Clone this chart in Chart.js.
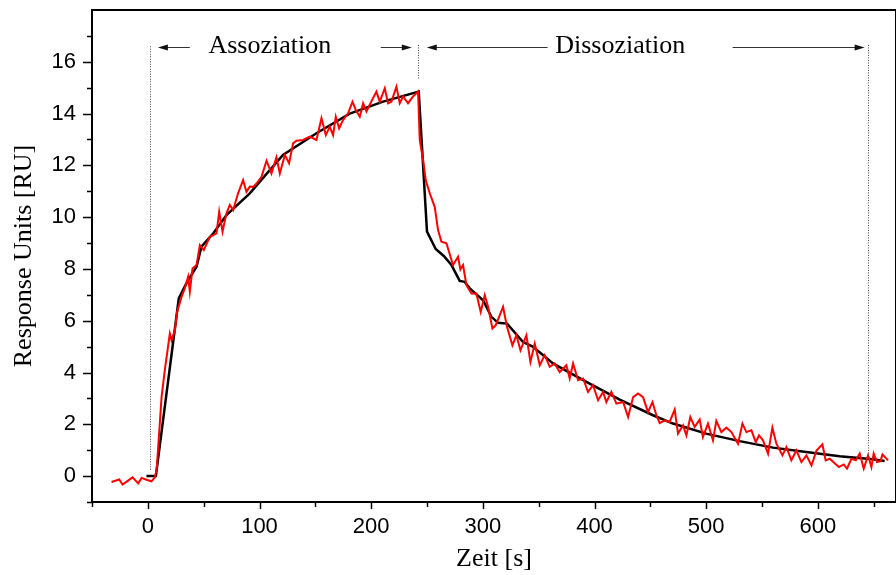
<!DOCTYPE html>
<html>
<head>
<meta charset="utf-8">
<script src="https://cdn.jsdelivr.net/npm/chart.js@4"></script>
<style>
  body { margin: 0; background: #fff; }
  #wrap { width: 896px; height: 575px; position: relative; }
</style>
</head>
<body>
<div id="wrap"><canvas id="spr-chart"></canvas></div>
<script>
// measured signal (red)
const redTime = [-32.5, -25.6, -22.6, -13.7, -8.6, -5.6, -0.6, 3.3, 6.3, 8.0, 12.3, 15.2, 19.7, 21.2, 24.2, 26.2,
  30.2, 33.1, 36.1, 37.6, 40, 43.6, 46.6, 50.1, 55.5, 61.5, 63.9, 66.9, 70.4, 73.4, 76.4, 80.8, 85.3, 88.3,
  91.3, 94.3, 97.3, 101.8, 106.3, 110.7, 115.2, 118.2, 122.7, 126.5, 130.1, 133.1, 139, 145, 151, 155.5,
  159.4, 162.9, 165.9, 168.3, 171.3, 174.8, 179.3, 183.3, 186.2, 189.8, 192.8, 195.8, 199.4, 204.7, 207.7,
  212.2, 215.1, 218.2, 222.6, 225.6, 228.6, 233, 237.5, 242, 243.5, 246.5, 249, 252.5, 256.9, 259.9, 262.9,
  267.4, 273.3, 277.8, 279.9, 282.3, 285.3, 289.8, 294.2, 298.1, 301.7, 304.7, 308.6, 311.6, 315.1, 318.1,
  321.7, 326.5, 330.1, 333.7, 339, 342.6, 346.5, 351, 355.4, 359.9, 364.4, 368.8, 374.8, 377.8, 380.8,
  385.3, 389.8, 394.2, 398.7, 403.2, 407.7, 410.6, 415.1, 419.6, 425.6, 430.1, 434.6, 439, 443.5, 447.9,
  451.9, 455.4, 458.4, 462.9, 467.3, 471.8, 474.8, 479.3, 482.3, 485.8, 489.7, 494.2, 497.1, 501.6, 506.1,
  509.1, 513.6, 518.1, 522.6, 528.5, 532.5, 536, 540.5, 544.4, 547.3, 550.9, 555.4, 559.3, 562.9, 568.3,
  571.9, 576.3, 580.8, 585.3, 589.8, 594.3, 598.8, 604.1, 607, 610.6, 615.1, 618.9, 623.2, 626.1, 630.1,
  634, 637.5, 641.1, 645, 648, 650, 653, 656.1, 657.9, 662.9];
const redResponse = [-0.23, -0.13, -0.33, -0.05, -0.28, -0.07, -0.15, -0.2, -0.05, 0.3, 3.05, 4.09, 5.5, 5.25, 5.63, 6.34,
  6.92, 7.25, 7.7, 7.12, 8.02, 8.15, 8.92, 8.73, 9.24, 9.37, 10.21, 9.44, 10.15, 10.47, 10.27, 10.92, 11.43, 10.98,
  11.18, 11.17, 11.3, 11.56, 12.18, 11.69, 12.31, 11.69, 12.4, 12.08, 12.85, 12.95, 12.98, 13.11, 12.98, 13.82,
  13.17, 13.5, 13.17, 13.88, 13.43, 13.75, 14.01, 14.46, 14.14, 13.88, 14.4, 14.08, 14.4, 14.85, 14.46,
  14.98, 14.4, 14.46, 15.04, 14.4, 14.66, 14.4, 14.66, 14.85, 12.98, 12.2, 11.4, 10.92, 10.4, 9.5, 9.05,
  8.99, 8.15, 8.47, 7.98, 8.15, 7.37, 7.05, 7.05, 6.34, 6.99, 6.54, 5.7, 5.83, 6.21, 6.54,
  5.76, 5.05, 5.44, 4.86, 5.44, 4.41, 5.12, 4.28, 4.67, 4.22, 4.35, 4.02, 4.28, 3.77, 4.35,
  3.7, 3.77, 3.25, 3.51, 2.93, 3.25, 2.86, 3.25, 2.8, 2.86, 2.28, 3.05, 3.19, 3.05, 2.47,
  2.86, 2.35, 2.05, 2.15, 2.09, 2.57, 1.64, 1.96, 1.57, 2.28, 1.9, 2.18, 1.51, 2.03, 1.38,
  2.13, 1.7, 1.87, 1.7, 1.25, 2.03, 1.7, 1.77, 1.31, 1.57, 1.38, 0.87, 1.87, 1.25, 0.8,
  1.12, 0.61, 0.99, 0.54, 0.8, 0.41, 0.99, 1.23, 0.61, 0.67, 0.5, 0.35, 0.45, 0.29, 0.67,
  0.61, 0.87, 0.29, 0.8, 0.35, 0.87, 0.54, 0.58, 0.84, 0.61];

// fitted curve (black)
const fitTime = [-1.2, 7.2, 27.7, 35.2, 43.6, 48, 58.5, 70.4, 91.3, 100.3, 121, 151, 180.8, 210.7, 242.6,
  250, 257.8, 265, 271.9, 279.3, 283.8, 288.3, 300.2, 307.7, 313.6, 321.7, 336, 345, 362.8, 392.7,
  422.6, 452.4, 470.3, 500, 530, 559.8, 589.6, 619.5, 649.3, 659.8];
const fitResponse = [0, 0, 6.86, 7.5, 8.08, 8.86, 9.37, 10.08, 10.92, 11.37, 12.4, 13.24, 14.0, 14.46, 14.85,
  9.44, 8.77, 8.5, 8.15, 7.54, 7.5, 7.25, 6.79, 6.15, 5.92, 5.89, 5.18, 4.99, 4.35, 3.64,
  2.95, 2.35, 2.03, 1.64, 1.35, 1.10, 0.93, 0.77, 0.65, 0.58];

// phase markers (data units)
const markerTime = [1.8, 241.5, 645.2];
const markerTop = [16.6, 16.65, 16.65];
const markerBottom = [0.2, 15.3, 0.7];
const arrowTail = [37.6, 208.6, 358, 523.7];
const arrowTip = [9, 236.4, 249.8, 641.9];
const arrowLevel = 16.59;
const phaseNames = ['Assoziation', 'Dissoziation'];
const phaseCenter = [109.2, 423];
const phaseBaseline = 16.33;

Chart.defaults.font.family = '"Liberation Sans", Arial, sans-serif';
Chart.defaults.color = '#000';

const toPoints = (xs, ys) => xs.map((x, i) => ({ x: x, y: ys[i] }));

const annotations = {
    id: 'annotations',
    afterDraw(chart) {
        const ctx = chart.ctx;
        const xs = chart.scales.x, ys = chart.scales.y;
        const area = chart.chartArea;
        ctx.save();

        // frame top / right
        ctx.strokeStyle = '#000';
        ctx.lineWidth = 2;
        ctx.beginPath();
        ctx.moveTo(area.left, area.top);
        ctx.lineTo(area.right, area.top);
        ctx.lineTo(area.right, area.bottom);
        ctx.stroke();

        // tick marks, major / minor
        ctx.lineWidth = 1.5;
        xs.ticks.forEach(t => {
            const px = Math.round(xs.getPixelForValue(t.value)) + 0.5;
            const len = t.value % 100 === 0 ? 7 : 5;
            ctx.beginPath();
            ctx.moveTo(px, area.bottom);
            ctx.lineTo(px, area.bottom + len);
            ctx.stroke();
        });
        ys.ticks.forEach(t => {
            if (t.value > 17) return;
            const py = Math.round(ys.getPixelForValue(t.value)) + 0.5;
            const len = t.value % 2 === 0 ? 9 : 5;
            ctx.beginPath();
            ctx.moveTo(area.left, py);
            ctx.lineTo(area.left - len, py);
            ctx.stroke();
        });

        // dotted phase markers
        ctx.strokeStyle = '#444';
        ctx.lineWidth = 1;
        ctx.setLineDash([1, 1.5]);
        markerTime.forEach((t, i) => {
            const px = Math.round(xs.getPixelForValue(t)) + 0.5;
            ctx.beginPath();
            ctx.moveTo(px, ys.getPixelForValue(markerTop[i]));
            ctx.lineTo(px, ys.getPixelForValue(markerBottom[i]));
            ctx.stroke();
        });
        ctx.setLineDash([]);

        // arrows
        const ay = Math.round(ys.getPixelForValue(arrowLevel)) + 0.5;
        ctx.fillStyle = '#111';
        arrowTail.forEach((t, i) => {
            const x0 = xs.getPixelForValue(t);
            const x1 = xs.getPixelForValue(arrowTip[i]);
            const dir = x1 > x0 ? 1 : -1;
            ctx.strokeStyle = '#333';
            ctx.beginPath();
            ctx.moveTo(x0, ay);
            ctx.lineTo(x1 - dir * 8, ay);
            ctx.stroke();
            ctx.beginPath();
            ctx.moveTo(x1, ay);
            ctx.lineTo(x1 - dir * 10, ay - 3);
            ctx.lineTo(x1 - dir * 10, ay + 3);
            ctx.closePath();
            ctx.fill();
        });

        // phase labels
        ctx.font = '26px "Liberation Serif", "Times New Roman", serif';
        ctx.fillStyle = '#000';
        ctx.textAlign = 'center';
        ctx.textBaseline = 'alphabetic';
        phaseNames.forEach((name, i) => {
            ctx.fillText(name, xs.getPixelForValue(phaseCenter[i]), ys.getPixelForValue(phaseBaseline));
        });
        ctx.restore();
    }
};

const chart = new Chart(document.getElementById('spr-chart'), {
    type: 'line',
    data: {
        datasets: [{
            label: 'Messung',
            data: toPoints(redTime, redResponse),
            borderColor: '#ff0000',
            borderWidth: 2,
            pointRadius: 0,
            tension: 0,
            fill: false
        }, {
            label: 'Fit',
            data: toPoints(fitTime, fitResponse),
            borderColor: '#000',
            borderWidth: 2.5,
            pointRadius: 0,
            tension: 0,
            fill: false
        }]
    },
    options: {
        responsive: true,
        maintainAspectRatio: false,
        animation: false,
        layout: { padding: { top: 10, right: 0, bottom: 0, left: 0 } },
        plugins: { legend: { display: false }, tooltip: { enabled: false } },
        scales: {
            x: {
                type: 'linear',
                min: -50,
                max: 670,
                grid: { display: false, drawTicks: false },
                border: { display: true, color: '#000', width: 2 },
                ticks: {
                    stepSize: 50,
                    includeBounds: false,
                    autoSkip: false,
                    maxRotation: 0,
                    padding: 12,
                    font: { size: 22 },
                    callback: v => (v % 100 === 0 ? v : '')
                },
                title: {
                    display: true,
                    text: 'Zeit [s]',
                    font: { family: '"Liberation Serif", "Times New Roman", serif', size: 26 },
                    padding: { top: 0, bottom: 0 }
                },
                afterFit: s => { s.height = 73; s.paddingLeft = 0; s.paddingRight = 0; }
            },
            y: {
                type: 'linear',
                min: -1,
                max: 18,
                grid: { display: false, drawTicks: false },
                border: { display: true, color: '#000', width: 2 },
                ticks: {
                    stepSize: 1,
                    includeBounds: false,
                    autoSkip: false,
                    padding: 16,
                    font: { size: 22 },
                    callback: v => (v >= 0 && v <= 16 && v % 2 === 0 ? v : '')
                },
                title: {
                    display: true,
                    text: 'Response Units [RU]',
                    font: { family: '"Liberation Serif", "Times New Roman", serif', size: 26 },
                    padding: { top: 9, bottom: 0 }
                },
                afterFit: s => { s.width = 92; s.paddingTop = 0; s.paddingBottom = 0; }
            }
        }
    },
    plugins: [annotations]
});
</script>
</body>
</html>
